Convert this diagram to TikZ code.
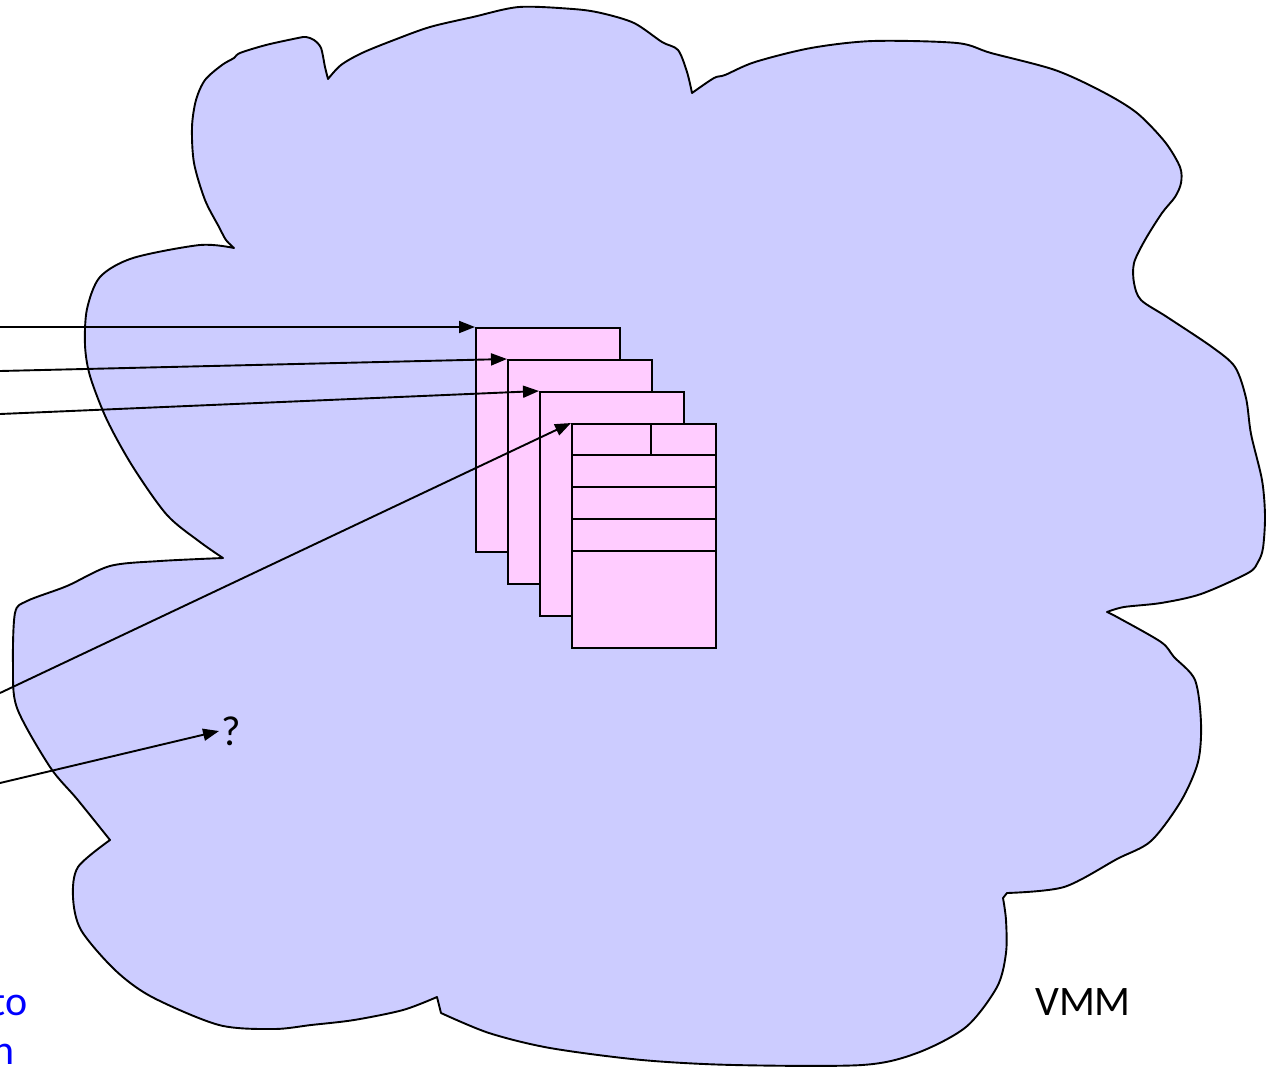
\documentclass[tikz,border=0pt]{standalone}
\usepackage{fontspec}
\setmainfont{Carlito}
\usetikzlibrary{arrows.meta}
\definecolor{cloudfill}{RGB}{204,204,255}
\definecolor{pagefill}{RGB}{255,204,255}
\definecolor{notecol}{RGB}{0,0,255}
\tikzset{
  cloudline/.style={draw=black, line width=1.9pt, fill=cloudfill, line join=round},
  pagebox/.style={draw=black, line width=2.3pt, fill=pagefill, rectangle,
    minimum width=144pt, minimum height=224pt, inner sep=0pt, anchor=north west},
  rowline/.style={draw=black, line width=2.3pt},
  ptr/.style={draw=black, line width=1.9pt, -{Triangle[length=16pt,width=12pt]}},
  bigtext/.style={font=\fontsize{42}{50}\selectfont, inner sep=2pt},
}
\begin{document}
\begin{tikzpicture}[x=1pt, y=-1pt]
\useasboundingbox (0,0) rectangle (1268,1066);
\clip (0,0) rectangle (1268,1066);

% VMM cloud, lobe by lobe between its notches
\path[cloudline]
  plot[smooth, tension=0.5] coordinates {(234,248) (226,240) (219,227) (205,200) (194,163) (192,127) (196,100) (205,80) (222,65) (234,58) (240,53) (266,45) (298,38) (306,37) (314,40) (321,48) (325,67) (328,79)}
  -- plot[smooth, tension=0.5] coordinates {(328,79) (341,65) (362,53) (394,40) (430,27) (473,17) (519,7) (573,9) (601,13) (634,23) (662,42) (678,50) (687,72) (692,93)}
  -- plot[smooth, tension=0.5] coordinates {(692,93) (714,78) (725,75) (755,62) (811,48) (873,41) (957,43) (991,53) (1055,70) (1103,92) (1137,113) (1165,142) (1180,167) (1181,183) (1175,197) (1162,213) (1145,240) (1134,263) (1134,283) (1141,300) (1167,317) (1212,347) (1235,367) (1246,398) (1251,434) (1262,480) (1265,516) (1263,548) (1258,562) (1248,573) (1201,594) (1161,603) (1124,607) (1107,612)}
  -- plot[smooth, tension=0.5] coordinates {(1107,612) (1117,617) (1161,642) (1174,657) (1195,680) (1201,723) (1198,762) (1181,801) (1151,841) (1117,859) (1064,887) (1007,893)}
  -- plot[smooth, tension=0.5] coordinates {(1003,898) (1006,920) (1006,953) (997,987) (966,1027) (917,1053) (862,1065) (734,1065) (642,1060) (550,1048) (489,1033) (441,1013)}
  -- plot[smooth, tension=0.5] coordinates {(437,997) (403,1010) (354,1020) (311,1025) (274,1029) (219,1025) (152,997) (115,970) (81,930) (73,897) (78,867) (110,840)}
  -- plot[smooth, tension=0.5] coordinates {(110,840) (77,799) (50,767) (17,708) (13,665) (15,613) (27,601) (67,586) (110,566) (160,561) (223,558)}
  -- plot[smooth, tension=0.5] coordinates {(223,558) (200,542) (167,515) (133,467) (107,420) (90,376) (85,345) (87,309) (100,277) (133,258) (200,245) (234,248)}
  -- cycle;

% stack of pages
\node[pagebox] (p1) at (475,327) {};
\node[pagebox] (p2) at (507,359) {};
\node[pagebox] (p3) at (539,391) {};
\node[pagebox] (p4) at (571,423) {};

% rows of the front page
\foreach \d in {32,64,96,128}
  \draw[rowline] ([yshift=-\d pt]p4.north west) -- ([yshift=-\d pt]p4.north east);
\draw[rowline] ([xshift=80pt]p4.north west) -- ([xshift=80pt,yshift=-32pt]p4.north west);

% pointer sources at the left edge
\coordinate (s1) at (0,327);
\coordinate (s2) at (0,371);
\coordinate (s3) at (0,414);
\coordinate (s4) at (0,693);
\coordinate (s5) at (0,783);

\node[bigtext] (q) at (231,731) {?};

\draw[ptr] (s1) -- (p1.north west);
\draw[ptr] (s2) -- (p2.north west);
\draw[ptr] (s3) -- (p3.north west);
\draw[ptr] (s4) -- (p4.north west);
\draw[ptr] (s5) -- (q.west);

\node[bigtext] (vmm) at (1083,1002) {VMM};

\node[bigtext, text=notecol, anchor=base east] (n1) at (30,1015) {to};
\node[bigtext, text=notecol, anchor=base east] (n2) at (17,1064) {n};
\end{tikzpicture}
\end{document}
